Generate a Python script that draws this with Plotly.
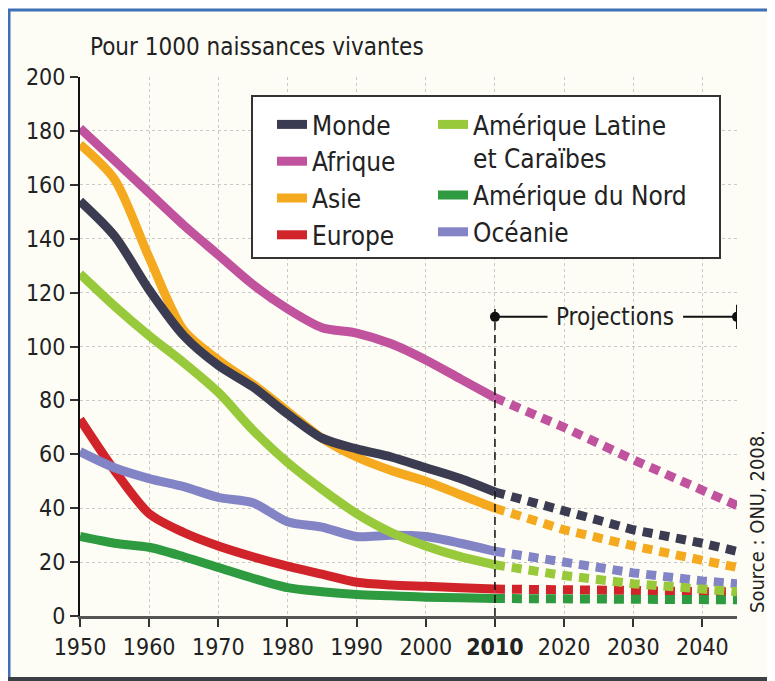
import plotly.graph_objects as go

# ---------------- data ----------------
years_obs = [1950, 1955, 1960, 1965, 1970, 1975, 1980, 1985, 1990, 1995, 2000, 2005, 2010]
years_proj = [2010, 2020, 2030, 2040, 2045]

monde_obs = [154, 141, 121, 104, 93, 85, 75, 66, 62, 59, 55, 51, 46]
afrique_obs = [181, 169, 157, 145, 134, 123, 114, 107, 105, 101, 95, 88, 81]
asie_obs = [175, 162, 133, 106, 95, 86, 76, 66, 59, 54, 50, 45, 40]
europe_obs = [73, 54, 38, 31, 26, 22, 18.5, 15.5, 12.5, 11.5, 11, 10.5, 10]
amlat_obs = [127, 115, 104, 94, 83, 69, 57, 47, 38, 31, 26, 22, 19]
amnord_obs = [29.5, 27, 25.5, 22, 18, 14, 10.5, 9, 8, 7.5, 7, 6.8, 6.5]
oceanie_obs = [61, 55, 51, 48, 44, 42, 35, 33, 29.5, 30, 29.5, 27, 24]

monde_proj = [46, 39, 32, 27, 24]
afrique_proj = [81, 70, 58, 47, 41]
asie_proj = [40, 32, 26, 21, 18]
europe_proj = [10, 10, 9.5, 9, 9]
amlat_proj = [19, 15, 12, 10, 9]
amnord_proj = [6.5, 6.3, 6, 6, 6]
oceanie_proj = [24, 20, 16, 13, 12]

series_names = ["Monde", "Afrique", "Asie", "Europe",
                "Amérique Latine<br>et Caraïbes", "Amérique du Nord", "Océanie"]

x_ticks = [1950, 1960, 1970, 1980, 1990, 2000, 2010, 2020, 2030, 2040]
x_ticktext = ["1950", "1960", "1970", "1980", "1990", "2000", "<b>2010</b>", "2020", "2030", "2040"]
y_ticks = [0, 20, 40, 60, 80, 100, 120, 140, 160, 180, 200]

proj_span = [2010, 2045]
proj_level = 111
proj_gap = [2017.6, 2037.2]

# ---------------- styling ----------------
FONT = "Liberation Sans Narrow, DejaVu Sans Condensed, Roboto, sans-serif"
TXT = "#222222"
colors = {
    "Monde": "#3b3b52",
    "Afrique": "#c0529e",
    "Asie": "#f4a91e",
    "Europe": "#d1232a",
    "Amérique Latine<br>et Caraïbes": "#97c93b",
    "Amérique du Nord": "#2f9b40",
    "Océanie": "#8384c6",
}
obs = dict(zip(series_names, [monde_obs, afrique_obs, asie_obs, europe_obs,
                              amlat_obs, amnord_obs, oceanie_obs]))
proj = dict(zip(series_names, [monde_proj, afrique_proj, asie_proj, europe_proj,
                               amlat_proj, amnord_proj, oceanie_proj]))
legend_of = {"Monde": "legend", "Afrique": "legend", "Asie": "legend", "Europe": "legend",
             "Amérique Latine<br>et Caraïbes": "legend2", "Amérique du Nord": "legend2",
             "Océanie": "legend2"}
draw_order = ["Europe", "Amérique du Nord", "Océanie", "Amérique Latine<br>et Caraïbes",
              "Afrique", "Asie", "Monde"]

fig = go.Figure()

for name in draw_order:
    fig.add_trace(go.Scatter(
        x=years_proj, y=proj[name], mode="lines",
        line=dict(color=colors[name], width=9, dash="10px,7px"),
        showlegend=False, hoverinfo="skip"))

for name in draw_order:
    fig.add_trace(go.Scatter(
        x=years_obs, y=obs[name], mode="lines", name=name,
        line=dict(color=colors[name], width=9, shape="spline", smoothing=0.8),
        legend=legend_of[name], legendrank=series_names.index(name) + 1))

# Projections bracket end dots
fig.add_trace(go.Scatter(
    x=proj_span, y=[proj_level, proj_level], mode="markers",
    marker=dict(color="#111111", size=10), showlegend=False, hoverinfo="skip"))

# page offset: the browser body adds 8px margin, so the figure is drawn 8px in
OFF = 8
W, H = 775 - OFF, 681 - OFF
PLOT_L, PLOT_R, PLOT_T, PLOT_B = 80, 737, 77, 616  # reference pixel box of plot area
L, R = PLOT_L - OFF, W - (PLOT_R - OFF)
T, B = PLOT_T - OFF, H - (PLOT_B - OFF)
pw, ph = PLOT_R - PLOT_L, PLOT_B - PLOT_T


def px_x(p):
    return (p - PLOT_L) / pw


def px_y(p):
    return (PLOT_B - p) / ph


shapes = [
    # cream page with frame
    dict(type="rect", xref="paper", yref="paper", x0=px_x(9), x1=px_x(790), y0=px_y(677), y1=px_y(11),
         fillcolor="#fdfdf6", line=dict(width=0), layer="below"),
    dict(type="line", xref="paper", yref="paper", x0=px_x(7), x1=px_x(790), y0=px_y(10), y1=px_y(10),
         line=dict(color="#3f6fb4", width=3), layer="below"),
    dict(type="line", xref="paper", yref="paper", x0=px_x(9), x1=px_x(9), y0=px_y(9), y1=px_y(690),
         line=dict(color="#3f6fb4", width=3), layer="below"),
    dict(type="rect", xref="paper", yref="paper", x0=px_x(0), x1=px_x(790), y0=px_y(690), y1=px_y(677),
         fillcolor="#3c3f44", line=dict(width=0), layer="below"),
    # legend box
    dict(type="rect", xref="paper", yref="paper", x0=px_x(252), x1=px_x(720), y0=px_y(258), y1=px_y(96),
         fillcolor="white", line=dict(color="#333333", width=2), layer="above"),
    # projections bracket
    dict(type="line", xref="x", yref="y", x0=proj_span[0], x1=proj_gap[0], y0=proj_level, y1=proj_level,
         line=dict(color="#111111", width=2)),
    dict(type="line", xref="x", yref="y", x0=proj_gap[1], x1=proj_span[1], y0=proj_level, y1=proj_level,
         line=dict(color="#111111", width=2)),
    dict(type="line", xref="x", yref="y", x0=proj_span[1], x1=proj_span[1], y0=proj_level - 4.5,
         y1=proj_level + 4.5, line=dict(color="#111111", width=2)),
    dict(type="line", xref="x", yref="y", x0=proj_span[0], x1=proj_span[0], y0=0,
         y1=proj_level + 4.5, line=dict(color="#111111", width=1.5, dash="8px,5px")),
]

annotations = [
    dict(text="Pour 1000 naissances vivantes", xref="paper", yref="paper", x=px_x(88), y=px_y(47),
         xanchor="left", yanchor="middle", showarrow=False, font=dict(family=FONT, size=24, color=TXT)),
    dict(text="Projections", xref="x", yref="y", x=2027.4, y=proj_level, xanchor="center",
         yanchor="middle", showarrow=False, font=dict(family=FONT, size=24, color=TXT)),
    dict(text="Source : ONU, 2008.", xref="paper", yref="paper", x=px_x(757), y=px_y(522),
         xanchor="center", yanchor="middle", textangle=-90, showarrow=False,
         font=dict(family=FONT, size=20, color=TXT)),
]

legend_common = dict(bgcolor="rgba(0,0,0,0)", borderwidth=0, font=dict(family=FONT, size=26, color=TXT),
                     xanchor="left", yanchor="top", valign="top", traceorder="normal")

fig.update_layout(
    width=W, height=H, autosize=False,
    margin=dict(l=L, r=R, t=T, b=B, pad=0),
    paper_bgcolor="white", plot_bgcolor="rgba(0,0,0,0)",
    font=dict(family=FONT, size=24, color=TXT),
    shapes=shapes, annotations=annotations,
    legend=dict(x=px_x(272), y=px_y(101), **legend_common),
    legend2=dict(x=px_x(433), y=px_y(101), **legend_common),
    xaxis=dict(range=[1950, 2045], tickvals=x_ticks, ticktext=x_ticktext, showgrid=True,
               gridcolor="#c9c9c9", griddash="dot", gridwidth=1, zeroline=False, automargin=False,
               showline=True, linecolor="#555555", linewidth=3, ticks="outside", ticklen=8,
               tickcolor="#333333", tickwidth=2, tickfont=dict(family=FONT, size=23, color=TXT)),
    yaxis=dict(range=[0, 200], tickvals=y_ticks, showgrid=True, gridcolor="#c9c9c9", griddash="dot",
               gridwidth=1, zeroline=False, showline=True, linecolor="#111111", linewidth=2,
               automargin=False, ticks="outside", ticklen=8, tickcolor="#333333", tickwidth=2,
               tickfont=dict(family=FONT, size=23, color=TXT)),
)

fig.write_html("out.html")
